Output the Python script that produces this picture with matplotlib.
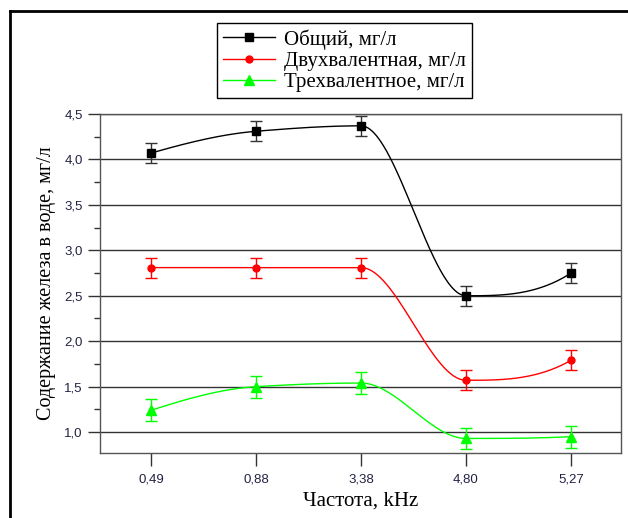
import numpy as np
import matplotlib
matplotlib.use("Agg")
import matplotlib.pyplot as plt
from matplotlib.lines import Line2D
from matplotlib.ticker import MultipleLocator, FuncFormatter

# Данные
freq_labels = ["0,49", "0,88", "3,38", "4,80", "5,27"]
total = [4.07, 4.31, 4.37, 2.50, 2.75]
total_err = [0.11, 0.11, 0.11, 0.11, 0.11]
ferrous = [2.81, 2.81, 2.81, 1.57, 1.79]
ferrous_err = [0.11, 0.11, 0.11, 0.11, 0.11]
ferric = [1.24, 1.50, 1.54, 0.93, 0.95]
ferric_err = [0.12, 0.12, 0.12, 0.12, 0.12]

names = ["Общий, мг/л", "Двухвалентная, мг/л", "Трехвалентное, мг/л"]


def pchip(x, y, xs):
    # монотонная кубическая интерполяция (Fritsch-Carlson)
    x = np.asarray(x, float)
    y = np.asarray(y, float)
    h = np.diff(x)
    d = np.diff(y) / h
    n = len(x)
    m = np.zeros(n)
    for k in range(1, n - 1):
        if d[k - 1] * d[k] > 0:
            w1 = 2 * h[k] + h[k - 1]
            w2 = h[k] + 2 * h[k - 1]
            m[k] = (w1 + w2) / (w1 / d[k - 1] + w2 / d[k])
    for i, (a, b, ha, hb) in [(0, (d[0], d[1], h[0], h[1])), (n - 1, (d[-1], d[-2], h[-1], h[-2]))]:
        s = ((2 * ha + hb) * a - ha * b) / (ha + hb)
        if np.sign(s) != np.sign(a):
            s = 0
        elif np.sign(a) != np.sign(b) and abs(s) > abs(3 * a):
            s = 3 * a
        m[i] = s
    idx = np.clip(np.searchsorted(x, xs) - 1, 0, n - 2)
    t = (xs - x[idx]) / h[idx]
    h00 = 2 * t**3 - 3 * t**2 + 1
    h10 = t**3 - 2 * t**2 + t
    h01 = -2 * t**3 + 3 * t**2
    h11 = t**3 - t**2
    return h00 * y[idx] + h10 * h[idx] * m[idx] + h01 * y[idx + 1] + h11 * h[idx] * m[idx + 1]


fig = plt.figure(figsize=(6.28, 5.18), dpi=100)
ax = fig.add_axes([0.1592, 0.1255, 0.8297, 0.6544])

x = np.arange(len(freq_labels))
xs = np.linspace(0, len(freq_labels) - 1, 400)

series = [
    (total, total_err, "#000000", "#333333", "s", 6),
    (ferrous, ferrous_err, "#ff0000", "#ff0000", "o", 5),
    (ferric, ferric_err, "#00ff00", "#00ff00", "^", 7),
]

handles = []
for (vals, errs, col, ecol, mk, ms), name in zip(series, names):
    ax.plot(xs, pchip(x, vals, xs), color=col, lw=1.0, zorder=3)
    ax.errorbar(x, vals, yerr=errs, fmt=mk, color=col, ecolor=ecol, ms=ms,
                elinewidth=1.0, capsize=4, capthick=1.0, zorder=4)
    handles.append(Line2D([], [], color=col, lw=1.0, marker=mk, ms=ms))

# Сетка и оси
ax.set_xlim(-0.486, 4.476)
ax.set_ylim(0.77, 4.5)
ax.yaxis.set_major_locator(MultipleLocator(0.5))
ax.yaxis.set_minor_locator(MultipleLocator(0.25))
ax.yaxis.set_major_formatter(FuncFormatter(lambda v, p: f"{v:.1f}".replace(".", ",")))
ax.set_xticks(x)
ax.set_xticklabels(freq_labels)
ax.grid(axis="y", which="major", color="#333333", lw=1.0)
ax.set_axisbelow(True)

ax.tick_params(axis="both", which="major", direction="out", length=9, width=1,
               color="#333333", labelsize=9.5, labelcolor="#222244")
ax.tick_params(axis="x", which="major", pad=6)
ax.tick_params(axis="y", which="minor", direction="out", length=4.5, width=1, color="#333333")
for lab in ax.get_xticklabels() + ax.get_yticklabels():
    lab.set_family("Liberation Sans")
for sp in ax.spines.values():
    sp.set_color("#555555")
    sp.set_linewidth(1.0)

ax.set_xlabel("Частота, kHz", family="Liberation Serif", fontsize=15, labelpad=4)
ax.set_ylabel("Содержание железа в воде, мг/л", family="Liberation Serif", fontsize=14.5, labelpad=6)

leg = fig.legend(handles, names, loc="upper left", bbox_to_anchor=(0.3455, 0.9556),
                 bbox_transform=fig.transFigure, borderaxespad=0, fancybox=False,
                 edgecolor="black", framealpha=1, handlelength=2.5, labelspacing=0.08,
                 borderpad=0.3, handletextpad=0.4,
                 prop={"family": "Liberation Serif", "size": 15})
leg.get_frame().set_linewidth(1.0)

# Рамка рисунка
fig.add_artist(Line2D([0.016, 1.0], [0.978, 0.978], transform=fig.transFigure, color="black", lw=2))
fig.add_artist(Line2D([0.016, 0.016], [0.0, 0.978], transform=fig.transFigure, color="black", lw=2))

fig.savefig("out.png", dpi=100)
